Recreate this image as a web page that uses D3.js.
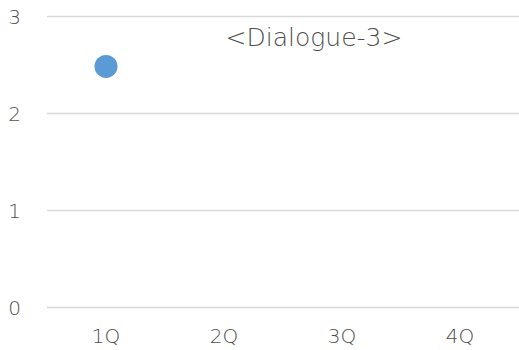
<!DOCTYPE html>
<html>
<head>
<meta charset="utf-8">
<script src="https://cdn.jsdelivr.net/npm/d3@7"></script>
<style>
  html, body { margin: 0; padding: 0; background: #ffffff; }
  svg { display: block; font-family: "DejaVu Sans", "Lato", sans-serif; }
</style>
</head>
<body>
<svg id="chart" width="519" height="350"></svg>
<script>
// Quarterly categories and the single plotted value
const categories = ["1Q", "2Q", "3Q", "4Q"];
const values = [2.48, null, null, null];
const yTicks = [0, 1, 2, 3];
const title = "<Dialogue-3>";

const width = 519, height = 350;
const margin = { top: 16, right: 0, bottom: 43, left: 47 };

const svg = d3.select("#chart");

const x = d3.scaleBand()
  .domain(categories)
  .range([margin.left, width - margin.right]);

const y = d3.scaleLinear()
  .domain([0, 3])
  .range([height - margin.bottom, margin.top]);

// Horizontal gridlines
svg.append("g")
  .selectAll("line")
  .data(yTicks)
  .join("line")
  .attr("x1", margin.left)
  .attr("x2", width - margin.right)
  .attr("y1", d => Math.round(y(d)) + 0.5)
  .attr("y2", d => Math.round(y(d)) + 0.5)
  .attr("stroke", "#d9d9d9")
  .attr("stroke-width", 1.5);

// Y axis labels, centred on their gridlines
svg.append("g")
  .selectAll("text")
  .data(yTicks)
  .join("text")
  .attr("x", 21)
  .attr("y", d => y(d) + 7.5)
  .attr("text-anchor", "end")
  .attr("fill", "#4f4f4f")
  .style("font-size", "20px")
  .style("font-weight", "300")
  .text(d => d);

// X axis labels
svg.append("g")
  .selectAll("text")
  .data(categories)
  .join("text")
  .attr("x", d => x(d) + x.bandwidth() / 2)
  .attr("y", 343)
  .attr("text-anchor", "middle")
  .attr("fill", "#4f4f4f")
  .style("font-size", "20px")
  .style("font-weight", "300")
  .text(d => d);

// Title
svg.append("text")
  .attr("x", 314)
  .attr("y", 46)
  .attr("text-anchor", "middle")
  .attr("fill", "#4f4f4f")
  .style("font-size", "25px")
  .style("font-weight", "300")
  .text(title);

// Data points
svg.append("g")
  .selectAll("circle")
  .data(categories.map((c, i) => ({ c, v: values[i] })).filter(d => d.v != null))
  .join("circle")
  .attr("cx", d => x(d.c) + x.bandwidth() / 2)
  .attr("cy", d => y(d.v))
  .attr("r", 11.5)
  .attr("fill", "#5b9bd5");
</script>
</body>
</html>
